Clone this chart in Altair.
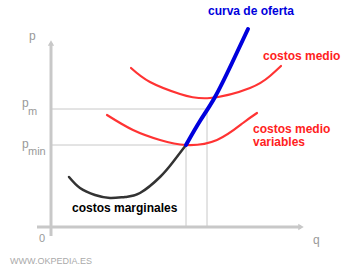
import altair as alt
import pandas as pd

# Quantity (q) and price (p) values, origin at the axes' crossing
mc_q = [18, 29, 44, 59, 74, 89, 109, 122, 135]
mc_p = [50, 39, 32, 29, 30, 34, 50, 65, 82]

supply_q = [135, 149, 164, 181, 197]
supply_p = [82, 106, 130, 164, 198]

ac_q = [80, 99, 129, 159, 199, 219, 230]
ac_p = [159, 145, 133, 129, 139, 151, 161]

avc_q = [56, 82, 109, 135, 166, 192, 206]
avc_p = [112, 97, 87, 82, 87, 104, 114]

p_m, p_min = 118, 82
q_min, q_m = 135, 156

bold_text = ["curva de oferta", "costos medio", "costos medio", "variables", "costos marginales"]
bold_q = [157, 212, 202, 202, 21]
bold_p = [212, 167, 94, 81, 15]
bold_color = ["#0000dd", "#ff2222", "#ff2222", "#ff2222", "#000000"]

gray_text = ["p", "p", "m", "p", "min", "0", "q"]
gray_q = [-22, -29, -23, -29, -23, -12, 262]
gray_p = [187, 120, 112, 79, 72, -15, -17]
gray_size = [12, 12, 11, 12, 11, 11, 12]

xs = alt.Scale(domain=[-51, 299], nice=False, zero=False)
ys = alt.Scale(domain=[-43, 227], nice=False, zero=False)

def curve(qs, ps, color, width):
    df = pd.DataFrame({"q": qs, "p": ps})
    return alt.Chart(df).mark_line(color=color, strokeWidth=width, interpolate="natural",
                                   strokeCap="round").encode(
        x=alt.X("q:Q", scale=xs, axis=None), y=alt.Y("p:Q", scale=ys, axis=None))

guides = pd.DataFrame({
    "q": [0, q_m, 0, q_min],
    "q2": [q_m, q_m, q_min, q_min],
    "p": [p_m, 0, p_min, 0],
    "p2": [p_m, p_m, p_min, p_min],
})
guide_layer = alt.Chart(guides).mark_rule(color="#c8c8c8", strokeWidth=1).encode(
    x=alt.X("q:Q", scale=xs, axis=None), x2="q2:Q",
    y=alt.Y("p:Q", scale=ys, axis=None), y2="p2:Q")

axes = pd.DataFrame({"q": [0, -14], "q2": [0, 250], "p": [-9, 0], "p2": [184, 0]})
axis_layer = alt.Chart(axes).mark_rule(color="#c8c8c8", strokeWidth=3).encode(
    x=alt.X("q:Q", scale=xs, axis=None), x2="q2:Q",
    y=alt.Y("p:Q", scale=ys, axis=None), y2="p2:Q")

arrows = pd.DataFrame({"q": [0, 250], "p": [184, 0], "shape": ["triangle-up", "triangle-right"]})
arrow_layer = alt.Chart(arrows).mark_point(filled=True, color="#c8c8c8", size=40, opacity=1).encode(
    x=alt.X("q:Q", scale=xs, axis=None), y=alt.Y("p:Q", scale=ys, axis=None),
    shape=alt.Shape("shape:N", scale=None))

bold_df = pd.DataFrame({"t": bold_text, "q": bold_q, "p": bold_p, "c": bold_color})
bold_layer = alt.Chart(bold_df).mark_text(align="left", baseline="alphabetic", fontSize=12,
                                          fontWeight="bold", font="Liberation Sans").encode(
    x=alt.X("q:Q", scale=xs, axis=None), y=alt.Y("p:Q", scale=ys, axis=None),
    text="t:N", color=alt.Color("c:N", scale=None))

gray_df = pd.DataFrame({"t": gray_text, "q": gray_q, "p": gray_p, "s": gray_size})
gray_layer = alt.Chart(gray_df).mark_text(align="left", baseline="alphabetic", color="#999999",
                                          font="Liberation Sans").encode(
    x=alt.X("q:Q", scale=xs, axis=None), y=alt.Y("p:Q", scale=ys, axis=None),
    text="t:N", size=alt.Size("s:Q", scale=None))

credit_df = pd.DataFrame({"t": ["WWW.OKPEDIA.ES"], "q": [-41], "p": [-37]})
credit_layer = alt.Chart(credit_df).mark_text(align="left", baseline="alphabetic", color="#aaaaaa",
                                              fontSize=9, font="Liberation Sans").encode(
    x=alt.X("q:Q", scale=xs, axis=None), y=alt.Y("p:Q", scale=ys, axis=None), text="t:N")

chart = alt.layer(
    guide_layer, axis_layer, arrow_layer,
    curve(ac_q, ac_p, "#ff3333", 2.2),
    curve(avc_q, avc_p, "#ff3333", 2.2),
    curve(mc_q, mc_p, "#333333", 2.5),
    curve(supply_q, supply_p, "#0000dd", 4),
    bold_layer, gray_layer, credit_layer,
).properties(width=350, height=270, padding=0, autosize="none", background="white"
).configure_view(stroke=None)

chart.save("out.html", embed_options={"renderer": "svg", "actions": False})
